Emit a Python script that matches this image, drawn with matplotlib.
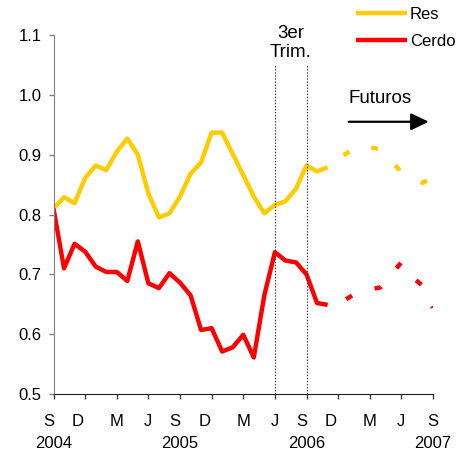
import matplotlib

matplotlib.use("Agg")

import matplotlib.pyplot as plt
import matplotlib.transforms as mtransforms
import numpy as np

plt.rcParams["font.family"] = ["Liberation Sans", "DejaVu Sans"]
plt.rcParams["lines.scale_dashes"] = False

# month index 0 = Sep 2004, 36 = Sep 2007
actual_months = list(range(27))
res_values = [0.810, 0.829, 0.819, 0.861, 0.882, 0.874, 0.905, 0.927, 0.900,
              0.835, 0.795, 0.802, 0.830, 0.868, 0.887, 0.937, 0.937, 0.901,
              0.866, 0.830, 0.802, 0.816, 0.822, 0.843, 0.882, 0.872, 0.879]
cerdo_values = [0.810, 0.710, 0.751, 0.738, 0.713, 0.704, 0.704, 0.689, 0.755,
                0.685, 0.677, 0.702, 0.686, 0.665, 0.607, 0.610, 0.571, 0.578,
                0.599, 0.561, 0.665, 0.737, 0.723, 0.720, 0.700, 0.652, 0.649]

res_fut_months = [26, 27, 29, 31, 33, 35, 36]
res_fut_values = [0.879, 0.893, 0.916, 0.909, 0.871, 0.853, 0.862]
cerdo_fut_months = [26, 27, 29, 31, 33, 34, 35, 36]
cerdo_fut_values = [0.649, 0.650, 0.672, 0.678, 0.720, 0.696, 0.681, 0.644]

tick_months = list(range(0, 37, 3))
tick_labels = ["S", "D", "M", "J", "S", "D", "M", "J", "S", "D", "M", "J", "S"]
label_shift_px = [-4.5, -7.5, 0, 0, -5, -7, 0, 0, -4.5, -7, 0, 0, 0]
year_months = [0, 12, 24, 36]
year_labels = ["2004", "2005", "2006", "2007"]
quarter_months = [21, 24]

RES_COLOR = "#FFCC00"
CERDO_COLOR = "#FF0000"
LW = 3.2
DASH = (7.9, (5.0, 17.3))

fig = plt.figure(figsize=(4.63, 4.54), dpi=100)
ax = fig.add_axes([53.5 / 463, 1 - 394 / 454, (433 - 53.5) / 463, (394 - 35) / 454])

ax.plot(actual_months, res_values, color=RES_COLOR, lw=LW, label="Res",
        solid_joinstyle="round", solid_capstyle="butt")
ax.plot(actual_months, cerdo_values, color=CERDO_COLOR, lw=LW, label="Cerdo",
        solid_joinstyle="round", solid_capstyle="butt")
ax.plot(res_fut_months, res_fut_values, color=RES_COLOR, lw=LW, linestyle=DASH,
        dash_capstyle="butt", dash_joinstyle="round")
ax.plot(cerdo_fut_months, cerdo_fut_values, color=CERDO_COLOR, lw=LW, linestyle=DASH,
        dash_capstyle="butt", dash_joinstyle="round")

ax.vlines(quarter_months, 0.5, 1.052, colors="#333333", linestyles=(0, (1, 1.2)), lw=0.8,
          clip_on=False)
ax.text(22.5, 1.087, "3er\nTrim.", ha="center", va="center", fontsize=13.5,
        linespacing=1.12, clip_on=False)
ax.text(31.0, 0.994, "Futuros", ha="center", va="center", fontsize=13.5)
ax.annotate("", xy=(35.6, 0.955), xytext=(28.0, 0.955),
            arrowprops=dict(arrowstyle="-|>,head_length=0.4,head_width=0.19",
                            color="black", lw=1.6, mutation_scale=27,
                            shrinkA=0, shrinkB=0))

ax.set_xlim(0, 36)
ax.set_ylim(0.5, 1.1)
ax.set_yticks(np.arange(0.5, 1.101, 0.1))
ax.set_yticklabels([f"{v:.1f}" for v in np.arange(0.5, 1.101, 0.1)])
ax.set_xticks(tick_months)
ax.set_xticklabels([])
ax.tick_params(axis="y", length=3.6, width=1, color="#808080", pad=4.9, labelsize=12)
ax.tick_params(axis="x", length=3.6, width=1, color="#404040")

for side in ("top", "right"):
    ax.spines[side].set_visible(False)
ax.spines["left"].set_color("#808080")
ax.spines["bottom"].set_color("#202020")

xtrans = ax.get_xaxis_transform()
for m, lab, dx in zip(tick_months, tick_labels, label_shift_px):
    off = mtransforms.ScaledTranslation(dx / 100, -27 / 100, fig.dpi_scale_trans)
    ax.text(m, 0, lab, transform=xtrans + off, ha="center", va="center", fontsize=12)
for m, lab in zip(year_months, year_labels):
    off = mtransforms.ScaledTranslation(0, -50 / 100, fig.dpi_scale_trans)
    ax.text(m, 0, lab, transform=xtrans + off, ha="center", va="center", fontsize=12)

ax.legend(loc="upper left", bbox_to_anchor=(355.7 / 463, 1 - 7 / 454),
          bbox_transform=fig.transFigure, frameon=False, fontsize=12,
          handlelength=3.06, handletextpad=0.2, labelspacing=0.72,
          borderpad=0, borderaxespad=0)

fig.savefig("out.png", dpi=100)
